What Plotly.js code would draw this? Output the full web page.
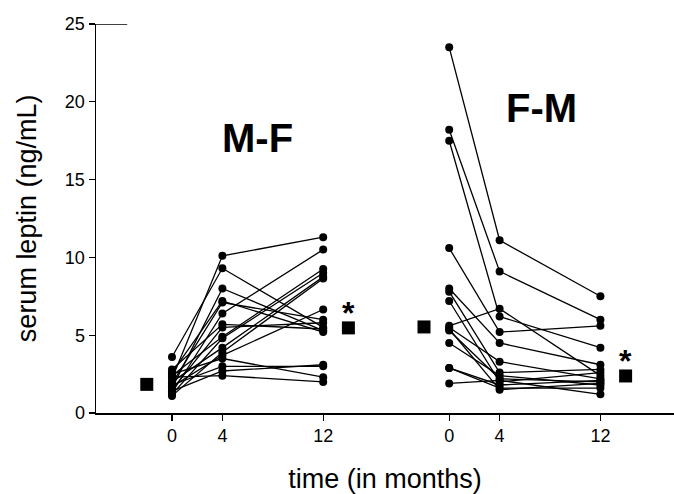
<!DOCTYPE html>
<html>
<head>
<meta charset="utf-8">
<script src="https://cdn.plot.ly/plotly-3.0.1.min.js"></script>
<style>html,body{margin:0;padding:0;background:#fff;}#chart{width:674px;height:494px;}</style>
</head>
<body>
<div id="chart"></div>
<script>
// time points (months) and tick labels
const months = [0, 4, 12];
const groupOffset = 22; // F-M group placed after M-F on the shared axis
const tickLabels = ['0', '4', '12', '0', '4', '12'];

// M-F group: serum leptin (ng/mL) per subject at 0, 4, 12 months
const mfT0  = [3.6, 2.2, 1.6, 2.6, 1.9, 1.3, 2.8, 1.5, 2.4, 1.2, 2.0, 1.7, 2.5, 1.8, 1.4, 2.3, 1.1];
const mfT4  = [9.3, 10.1, 8.0, 7.2, 7.1, 6.4, 5.7, 5.5, 4.9, 4.8, 4.2, 3.7, 3.5, 3.0, 2.7, 2.4, 3.9];
const mfT12 = [5.5, 11.3, 5.3, 5.2, 6.0, 10.5, 5.4, 5.8, 9.25, 9.0, 8.75, 6.65, 2.3, 3.0, 3.1, 2.0, 8.65];

// F-M group
const fmT0  = [23.5, 18.2, 17.5, 10.6, 8.0, 7.8, 7.2, 5.6, 5.5, 5.3, 4.5, 2.9, 2.9, 1.9, 5.4];
const fmT4  = [11.1, 9.1, 6.2, 5.2, 4.5, 2.6, 2.0, 6.7, 3.3, 2.2, 2.4, 1.8, 1.6, 2.1, 1.5];
const fmT12 = [7.5, 6.0, 4.2, 5.6, 3.1, 2.8, 2.6, 2.4, 2.2, 2.0, 1.8, 2.1, 1.6, 1.2, 1.9];

// group summary squares (before and after), marked with * after
const summaryX = [-2, 14];
const mfSummary = [1.84, 5.47];
const fmSummary = [5.53, 2.38];

const traces = [];
function addGroup(t0, t4, t12, off) {
  for (let i = 0; i < t0.length; i++) {
    traces.push({
      x: months.map(m => m + off),
      y: [t0[i], t4[i], t12[i]],
      mode: 'lines+markers',
      type: 'scatter',
      line: {color: '#000', width: 1.3},
      marker: {color: '#000', size: 8, symbol: 'circle'},
      hoverinfo: 'skip',
      showlegend: false
    });
  }
}
addGroup(mfT0, mfT4, mfT12, 0);
addGroup(fmT0, fmT4, fmT12, groupOffset);

traces.push({
  x: summaryX.concat(summaryX.map(v => v + groupOffset)),
  y: mfSummary.concat(fmSummary),
  mode: 'markers', type: 'scatter',
  marker: {color: '#000', size: 13, symbol: 'square'},
  showlegend: false, hoverinfo: 'skip'
});

const font = 'Arial, "Liberation Sans", sans-serif';
const tickVals = months.concat(months.map(m => m + groupOffset));

const layout = {
  width: 674, height: 494,
  margin: {l: 96, r: 0, t: 24, b: 81, pad: 0},
  paper_bgcolor: '#fff', plot_bgcolor: '#fff',
  font: {family: font, color: '#000'},
  showlegend: false,
  xaxis: {
    range: [-6.03, 39.84],
    tickmode: 'array', tickvals: tickVals, ticktext: tickLabels,
    ticks: 'outside', ticklen: 6, tickwidth: 1.2, tickcolor: '#000',
    showline: true, linecolor: '#000', linewidth: 1.5,
    showgrid: false, zeroline: false,
    tickfont: {family: font, size: 18, color: '#000'},
    title: {text: 'time (in months)', font: {family: font, size: 27, color: '#000'}, standoff: 26}
  },
  yaxis: {
    range: [0, 25],
    tickvals: [0, 5, 10, 15, 20, 25],
    ticks: 'outside', ticklen: 6, tickwidth: 1.2, tickcolor: '#000',
    showline: true, linecolor: '#000', linewidth: 1.5,
    showgrid: false, zeroline: false,
    tickfont: {family: font, size: 18, color: '#000'}
  },
  shapes: [
    {type: 'line', xref: 'paper', yref: 'y', x0: 0, x1: 0.054, y0: 25, y1: 25,
     line: {color: '#000', width: 1.5}}
  ],
  annotations: [
    {x: -0.12, y: 0.5, xref: 'paper', yref: 'paper', text: 'serum leptin (ng/mL)', textangle: -90,
     showarrow: false, xanchor: 'center', yanchor: 'middle',
     font: {family: font, size: 27, color: '#000'}},
    {x: 6.8, y: 17.7, xref: 'x', yref: 'y', text: '<b>M-F</b>', showarrow: false,
     font: {family: font, size: 40, color: '#000'}},
    {x: 29.3, y: 19.6, xref: 'x', yref: 'y', text: '<b>F-M</b>', showarrow: false,
     font: {family: font, size: 40, color: '#000'}},
    {x: summaryX[1], y: mfSummary[1], xref: 'x', yref: 'y', text: '<b>*</b>', showarrow: false,
     yshift: 15, font: {family: font, size: 32, color: '#000'}},
    {x: summaryX[1] + groupOffset, y: fmSummary[1], xref: 'x', yref: 'y', text: '<b>*</b>', showarrow: false,
     yshift: 15, font: {family: font, size: 32, color: '#000'}}
  ]
};

Plotly.newPlot('chart', traces, layout, {staticPlot: true, displayModeBar: false});
</script>
</body>
</html>
